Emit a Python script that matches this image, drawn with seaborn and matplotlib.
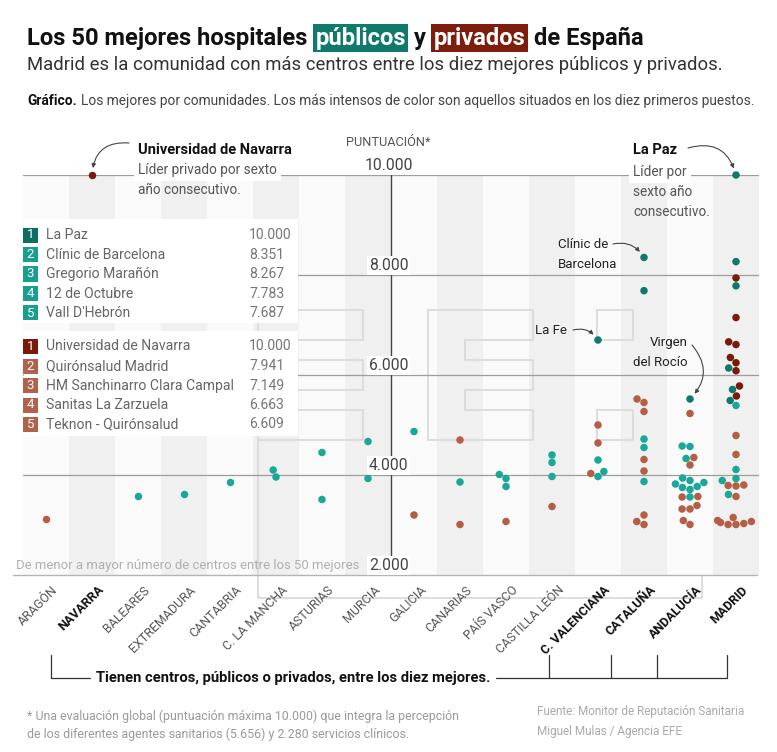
import warnings
warnings.filterwarnings("ignore")
import matplotlib
matplotlib.use("Agg")
import matplotlib.pyplot as plt
import matplotlib.transforms as mtransforms
from matplotlib.patches import Rectangle
from matplotlib.lines import Line2D
from matplotlib import font_manager
import seaborn as sns
import pandas as pd

# ---------------- data ----------------
communities = ["ARAGÓN", "NAVARRA", "BALEARES", "EXTREMADURA", "CANTABRIA",
               "C. LA MANCHA", "ASTURIAS", "MURCIA", "GALICIA", "CANARIAS",
               "PAÍS VASCO", "CASTILLA LEÓN", "C. VALENCIANA", "CATALUÑA",
               "ANDALUCÍA", "MADRID"]
bold_communities = ["NAVARRA", "C. VALENCIANA", "CATALUÑA", "ANDALUCÍA", "MADRID"]

public_top10 = {
    "C. VALENCIANA": [6700],
    "CATALUÑA": [8351, 7687],
    "ANDALUCÍA": [5520],
    "MADRID": [10000, 8267, 7783, 6140, 5710, 5490],
}
public_rest = {
    "BALEARES": [3590],
    "EXTREMADURA": [3630],
    "CANTABRIA": [3870],
    "C. LA MANCHA": [4100, 3960],
    "ASTURIAS": [4450, 3510],
    "MURCIA": [4670, 3930],
    "GALICIA": [4870],
    "CANARIAS": [3860],
    "PAÍS VASCO": [4010, 3930, 3770],
    "CASTILLA LEÓN": [4400, 4250, 3970],
    "C. VALENCIANA": [4300, 4070, 3970],
    "CATALUÑA": [4720, 4550, 3870],
    "ANDALUCÍA": [4580, 4570, 4330, 3940, 3890, 3850, 3820, 3770, 3750, 3710, 3560],
    "MADRID": [5390, 4110, 3930, 3890, 3610],
}
private_top10 = {
    "NAVARRA": [10000],
    "MADRID": [7941, 7149, 6663, 6609, 6350, 6245, 6085, 5780, 5580],
}
private_rest = {
    "ARAGÓN": [3130],
    "GALICIA": [3200],
    "CANARIAS": [4700, 3010],
    "PAÍS VASCO": [3070],
    "CASTILLA LEÓN": [3370],
    "C. VALENCIANA": [5000, 4640, 4030],
    "CATALUÑA": [5520, 5450, 5270, 4310, 4080, 3200, 3070, 3010],
    "ANDALUCÍA": [5230, 4350, 4200, 3570, 3560, 3390, 3320, 3320, 3090, 3010],
    "MADRID": [4790, 4410, 3800, 3790, 3780, 3570, 3150, 3090, 3070, 3050,
               3030, 3010, 3010],
}

legend_public_names = ["La Paz", "Clínic de Barcelona", "Gregorio Marañón",
                       "12 de Octubre", "Vall D'Hebrón"]
legend_public_values = ["10.000", "8.351", "8.267", "7.783", "7.687"]
legend_private_names = ["Universidad de Navarra", "Quirónsalud Madrid",
                        "HM Sanchinarro Clara Campal", "Sanitas La Zarzuela",
                        "Teknon - Quirónsalud"]
legend_private_values = ["10.000", "7.941", "7.149", "6.663", "6.609"]

y_ticks = [2000, 4000, 6000, 8000, 10000]
y_tick_labels = ["2.000", "4.000", "6.000", "8.000", "10.000"]
grid_values = [4000, 6000, 8000, 10000]

# ---------------- style ----------------
PUB_DARK = "#0d7a6b"
PUB_LIGHT = "#19a797"
PRIV_DARK = "#7a1a0b"
PRIV_LIGHT = "#b45e45"
TITLE_PUB = "#0f7a6b"
TITLE_PRIV = "#7d1e0c"


def has_font(name):
    try:
        font_manager.findfont(font_manager.FontProperties(family=name),
                              fallback_to_default=False)
        return True
    except Exception:
        return False


FONT = "Liberation Sans Narrow" if has_font("Liberation Sans Narrow") else "Roboto"

sns.set_theme(style="white")
plt.rcParams["font.family"] = [FONT, "DejaVu Sans"]

W, H = 777, 752
fig = plt.figure(figsize=(W / 100, H / 100), dpi=100)
fig.patch.set_facecolor("white")


def fx(x):
    return x / W


def fy(y):
    return 1 - y / H


ax = fig.add_axes([fx(23), fy(575), (759 - 23) / W, 400 / H])
renderer = fig.canvas.get_renderer()


def width_of(t):
    return t.get_window_extent(renderer).width


def fit(t, target):
    t.set_fontsize(t.get_fontsize() * target / width_of(t))
    return t


# ---------------- data frame ----------------
rows = []
for grp, d in [("Público (top 10)", public_top10), ("Público", public_rest),
               ("Privado (top 10)", private_top10), ("Privado", private_rest)]:
    for comm, vals in d.items():
        for v in vals:
            rows.append((comm, v, grp))
df = pd.DataFrame(rows, columns=["comunidad", "puntuacion", "grupo"])
palette = {"Público (top 10)": PUB_DARK, "Público": PUB_LIGHT,
           "Privado (top 10)": PRIV_DARK, "Privado": PRIV_LIGHT}

# background bands
for i in range(len(communities)):
    ax.axvspan(i - 0.5, i + 0.5, color="#f0f0f0" if i % 2 else "#fafafa",
               lw=0, zorder=0)

sns.swarmplot(data=df, x="comunidad", y="puntuacion", hue="grupo",
              order=communities, hue_order=list(palette.keys()),
              palette=palette, size=5.4, linewidth=0, legend=False,
              ax=ax, zorder=5)
for c in ax.collections:
    c.set_clip_on(False)
    c.set_zorder(5)

ax.set_xlim(-0.5, len(communities) - 0.5)
ax.set_ylim(2000, 10000)
ax.set_facecolor("white")
for s in ax.spines.values():
    s.set_visible(False)
ax.set_xticks([])
ax.set_yticks([])
ax.set_xlabel("")
ax.set_ylabel("")

# watermark (faint EFE outline)
def wm(points):
    xs = [fx(p[0]) for p in points]
    ys = [fy(p[1]) for p in points]
    ax.add_line(Line2D(xs, ys, transform=fig.transFigure, color="#dadada",
                       lw=1.3, zorder=0.5, clip_on=False))


def letter_e(x0):
    x1, xs = x0 + 105, x0 + 37
    return [(x0, 310), (x1, 310), (x1, 340), (xs, 340), (xs, 360), (x1, 360),
            (x1, 390), (xs, 390), (xs, 410), (x1, 410), (x1, 440), (x0, 440),
            (x0, 310)]


wm(letter_e(258))
wm(letter_e(428))
wm([(597, 310), (633, 310), (633, 340), (597, 340), (597, 310)])
wm([(597, 410), (633, 410), (633, 440), (597, 440), (597, 410)])
wm([(258, 440), (258, 598), (702, 598), (702, 576)])

# gridlines
for v in grid_values:
    ax.axhline(v, color="#9c9c9c", lw=0.9, zorder=1)
ax.plot([-0.72, len(communities) - 0.55], [2000, 2000], color="#b4b4b4",
        lw=1.0, zorder=1, clip_on=False)
ax.plot([7.5, 7.5], [2000, 10000], color="#444444", lw=1.0, zorder=2)

up = mtransforms.ScaledTranslation(0, 2 / 100, fig.dpi_scale_trans)
tick_texts = []
for v, lab in zip(y_ticks, y_tick_labels):
    t = ax.text(7.45, v, lab, ha="center", va="bottom", color="#444444",
                fontsize=10, transform=ax.transData + up, zorder=3,
                bbox=dict(fc="white", ec="none", pad=1.0))
    tick_texts.append(t)
fit(tick_texts[-1], 48)
for t in tick_texts:
    t.set_fontsize(tick_texts[-1].get_fontsize())

# x labels
probe = fig.text(0, 0, "EXTREMADURA", fontsize=10)
xl_size = 10 * 88 / width_of(probe)
probe.remove()
for i, name in enumerate(communities):
    is_bold = name in bold_communities
    off = mtransforms.ScaledTranslation(10 / 100, -13 / 100, fig.dpi_scale_trans)
    ax.text(i, 2000, name, rotation=45, rotation_mode="anchor", ha="right",
            va="center", fontsize=xl_size,
            fontweight="bold" if is_bold else "normal",
            color="#111111" if is_bold else "#555555",
            transform=ax.transData + off, clip_on=False)

# ---------------- legend boxes ----------------
fig.add_artist(Rectangle((fx(24), fy(323)), (298 - 24) / W, (323 - 219) / H,
                         transform=fig.transFigure, fc="white", ec="none", zorder=1))
fig.add_artist(Rectangle((fx(24), fy(436)), (298 - 24) / W, (436 - 331) / H,
                         transform=fig.transFigure, fc="white", ec="none", zorder=1))

probe = fig.text(0, 0, "HM Sanchinarro Clara Campal", fontsize=10)
leg_size = 10 * 187 / width_of(probe)
probe.remove()

pub_rows = [235, 254.5, 274, 293.5, 313]
priv_rows = [346.5, 366, 385.5, 405, 424.5]
for rows_y, names, vals, c1, c2 in [
        (pub_rows, legend_public_names, legend_public_values, "#0f6e62", "#1a9e90"),
        (priv_rows, legend_private_names, legend_private_values, "#7b1a0a", "#b0624c")]:
    for k, (yy, nm, vv) in enumerate(zip(rows_y, names, vals)):
        fig.add_artist(Rectangle((fx(23), fy(yy + 7.5)), 15 / W, 15 / H,
                                 transform=fig.transFigure,
                                 fc=c1 if k == 0 else c2, ec="none", zorder=2))
        fig.text(fx(30.5), fy(yy), str(k + 1), color="white", ha="center",
                 va="center", fontsize=leg_size * 0.95, zorder=3)
        fig.text(fx(46), fy(yy), nm, color="#666666", ha="left", va="center",
                 fontsize=leg_size, zorder=3)
        fig.text(fx(249), fy(yy), vv, color="#777777", ha="left", va="center",
                 fontsize=leg_size, zorder=3)

# ---------------- titles ----------------
def seq(pieces, x0, y, gap):
    x = x0
    out = []
    for txt, kw in pieces:
        t = fig.text(fx(x), fy(y), txt, va="center", ha="left", **kw)
        x = t.get_window_extent(renderer).x1 + gap
        out.append(t)
    return out


t1 = fig.text(0, 0, "Los 50 mejores hospitales", fontsize=20, fontweight="bold")
title_size = 20 * 281 / width_of(t1)
t1.remove()
tkw = dict(fontsize=title_size, fontweight="bold", color="#111111")
seq([("Los 50 mejores hospitales", tkw),
     ("públicos", dict(tkw, color="white",
                       bbox=dict(boxstyle="square,pad=0.1", fc=TITLE_PUB, ec="none"))),
     ("y", tkw),
     ("privados", dict(tkw, color="white",
                       bbox=dict(boxstyle="square,pad=0.1", fc=TITLE_PRIV, ec="none"))),
     ("de España", tkw)], 27, 38, 8)

sub = fig.text(fx(27), fy(65), "Madrid es la comunidad con más centros entre los "
               "diez mejores públicos y privados.", va="center", ha="left",
               color="#333333", fontsize=14)
fit(sub, 700)

g1 = fig.text(0, 0, "Gráfico.", fontsize=10, fontweight="bold")
g2 = fig.text(0, 0, "Los mejores por comunidades. Los más intensos de color son "
              "aquellos situados en los diez primeros puestos.", fontsize=10)
gsize = 10 * (730 - 4) / (width_of(g1) + width_of(g2))
g1.remove()
g2.remove()
seq([("Gráfico.", dict(fontsize=gsize, fontweight="bold", color="#111111")),
     ("Los mejores por comunidades. Los más intensos de color son aquellos "
      "situados en los diez primeros puestos.",
      dict(fontsize=gsize, color="#444444"))], 27, 101, 4)

pt = fig.text(fx(388), fy(143), "PUNTUACIÓN*", ha="center", va="center",
              color="#555555", fontsize=10)
fit(pt, 84)

# ---------------- annotations ----------------
ann_bold = fig.text(fx(138), fy(150), "Universidad de Navarra", ha="left",
                    va="center", fontweight="bold", color="#111111", fontsize=10,
                    zorder=4)
fit(ann_bold, 154)
abs_size = ann_bold.get_fontsize()
wbox = dict(fc="white", ec="none", pad=3)
a2 = fig.text(fx(138), fy(170), "Líder privado por sexto", ha="left", va="center",
              color="#555555", fontsize=10, zorder=4, bbox=wbox)
fit(a2, 139)
ann_size = a2.get_fontsize()
fig.text(fx(138), fy(190), "año consecutivo.", ha="left", va="center",
         color="#555555", fontsize=ann_size, zorder=4)

fig.text(fx(633), fy(150), "La Paz", ha="left", va="center", fontweight="bold",
         color="#111111", fontsize=abs_size, zorder=4)
fig.text(fx(633), fy(172), "Líder por", ha="left", va="center", color="#555555",
         fontsize=ann_size, zorder=4, bbox=wbox)
fig.text(fx(633), fy(192), "sexto año", ha="left", va="center", color="#555555",
         fontsize=ann_size, zorder=4)
fig.text(fx(633), fy(212), "consecutivo.", ha="left", va="center",
         color="#555555", fontsize=ann_size, zorder=4)

small = fig.text(fx(558), fy(264), "Barcelona", ha="left", va="center",
                 color="#222222", fontsize=10, zorder=4)
fit(small, 59)
sm_size = small.get_fontsize()
fig.text(fx(558), fy(245), "Clínic de", ha="left", va="center", color="#222222",
         fontsize=sm_size, zorder=4)
fig.text(fx(535), fy(330), "La Fe", ha="left", va="center", color="#222222",
         fontsize=sm_size, zorder=4)
fig.text(fx(688), fy(343), "Virgen", ha="right", va="center", color="#222222",
         fontsize=sm_size, zorder=4)
fig.text(fx(688), fy(362), "del Rocío", ha="right", va="center", color="#222222",
         fontsize=sm_size, zorder=4)


def arrow(col, val, x, y, rad):
    ax.annotate("", xy=(col, val), xycoords="data",
                xytext=(fx(x), fy(y)), textcoords="figure fraction",
                arrowprops=dict(arrowstyle="-|>", color="#444444", lw=0.8,
                                connectionstyle=f"arc3,rad={rad}",
                                shrinkA=0, shrinkB=5, mutation_scale=6),
                zorder=6, annotation_clip=False)


arrow(communities.index("NAVARRA"), 10000, 129, 143, 0.5)
arrow(communities.index("MADRID"), 10000, 688, 148, -0.5)
arrow(communities.index("CATALUÑA"), 8351, 613, 244, -0.35)
arrow(communities.index("C. VALENCIANA"), 6700, 573, 330, -0.35)
arrow(communities.index("ANDALUCÍA"), 5520, 692, 345, -0.45)

# ---------------- bottom texts ----------------
dm = fig.text(fx(16), fy(566), "De menor a mayor número de centros entre los 50 mejores",
              ha="left", va="center", color="#b0b0b0", fontsize=10, zorder=3)
fit(dm, 344)

br = fig.text(fx(96), fy(678), "Tienen centros, públicos o privados, entre los diez mejores.",
              ha="left", va="center", fontweight="bold", color="#111111", fontsize=10)
fit(br, 394)


def fline(xs, ys, color="#333333", lw=0.9):
    fig.add_artist(Line2D([fx(v) for v in xs], [fy(v) for v in ys],
                          transform=fig.transFigure, color=color, lw=lw))


fline([51, 90], [678, 678])
fline([496, 727], [678, 678])
for xt in [51, 549, 611, 657, 727]:
    fline([xt, xt], [655, 678])

f1 = fig.text(fx(27), fy(716), "* Una evaluación global (puntuación máxima 10.000) "
              "que integra la percepción", ha="left", va="center",
              color="#9a9a9a", fontsize=10)
fit(f1, 431)
fig.text(fx(27), fy(734), "de los diferentes agentes sanitarios (5.656) y 2.280 "
         "servicios clínicos.", ha="left", va="center", color="#9a9a9a",
         fontsize=f1.get_fontsize())
s1 = fig.text(fx(537), fy(712), "Fuente: Monitor de Reputación Sanitaria",
              ha="left", va="center", color="#aaaaaa", fontsize=10)
fit(s1, 208)
fig.text(fx(537), fy(731), "Miguel Mulas / Agencia EFE", ha="left", va="center",
         color="#aaaaaa", fontsize=s1.get_fontsize())

fig.savefig("out.png", dpi=100, facecolor="white")
